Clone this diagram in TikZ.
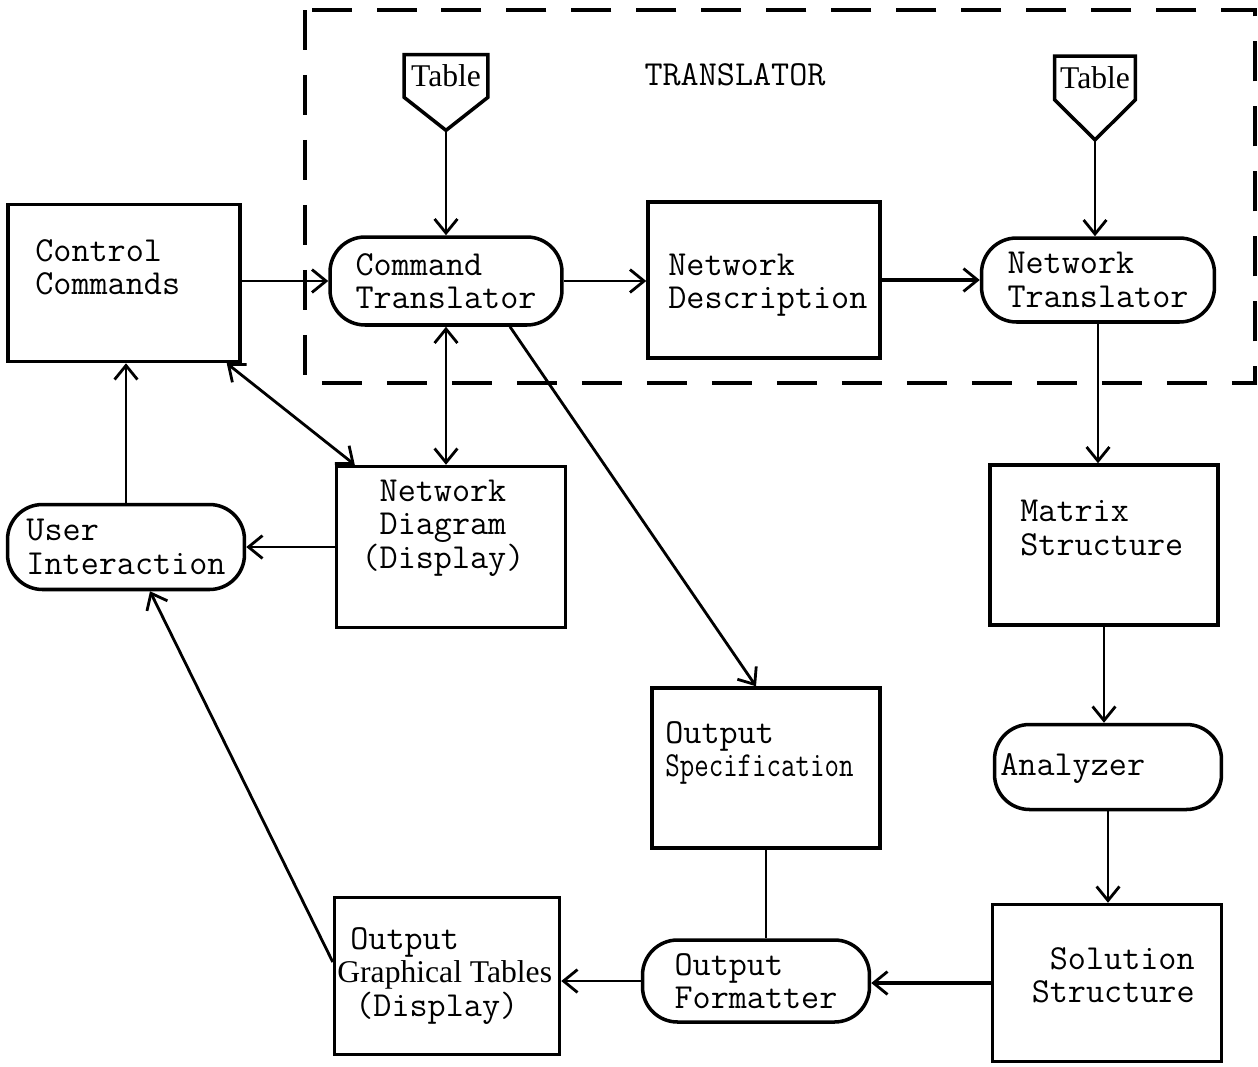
\documentclass[tikz,border=0pt]{standalone}
\usepackage{fontspec}
\newfontfamily\tabfont{Liberation Serif}
\usepackage{graphicx}
\usetikzlibrary{positioning,calc,arrows.meta}
\tikzset{
    % arrow tip
    >={Straight Barb[length=8pt,width=13pt,line width=1.6pt]},
    % arrow style
    pil/.style={
           ->,
           line width=1.6pt},
    % boxes and terminals
    box/.style={draw, line width=2pt, inner sep=0pt},
    term/.style={draw, line width=2pt, rounded corners=0.7cm, inner sep=0pt,
           align=left, font=\ttfamily\fontsize{20}{19}\selectfont},
    tabsign/.style={inner sep=0pt, font=\tabfont\fontsize{18}{19}\selectfont},
    txt/.style={inner sep=0pt, align=left, font=\ttfamily\fontsize{20}{19}\selectfont},
    frame/.style={line width=1.8pt, dash pattern=on 0.8cm off 0.5cm}
}
\begin{document}
\begin{tikzpicture}[x=0.02cm, y=-0.02cm]
\useasboundingbox (0,0) rectangle (1258,1066);

% translator frame
\draw [frame] (305,10) rectangle (1255,383);
\node [txt] (trl) at (735,75) {TRANSLATOR};

% tables
\node [tabsign, minimum width=1.66cm, minimum height=0.84cm] (tab1) at (446,76) {Table};
\draw [line width=2pt] (tab1.north west) -- (tab1.north east) -- (tab1.south east)
      -- ($(tab1.south)+(0,33)$) coordinate (tip1) -- (tab1.south west) -- cycle;
\node [tabsign, minimum width=1.6cm, minimum height=0.86cm] (tab2) at (1095,78) {Table};
\draw [line width=2pt] (tab2.north west) -- (tab2.north east) -- (tab2.south east)
      -- ($(tab2.south)+(0,40)$) coordinate (tip2) -- (tab2.south west) -- cycle;

% top row
\node [box, minimum width=4.64cm, minimum height=3.14cm] (cc) at (124,283) {};
\node [txt, anchor=west] (cc-t) at (35,267) {Control\\Commands};
\node [term, minimum width=4.64cm, minimum height=1.76cm] (ct) at (446,281) {Command\\Translator};
\node [box, minimum width=4.64cm, minimum height=3.12cm] (ndes) at (764,280) {};
\node [txt, anchor=west] (ndes-t) at (668,285) {Network\\Description};
\node [term, minimum width=4.66cm, minimum height=1.68cm] (nt) at (1098,280) {Network\\Translator};

% middle row
\node [term, minimum width=4.74cm, minimum height=1.7cm] (ui) at (126,547) {User\\Interaction};
\node [box, minimum width=4.58cm, minimum height=3.22cm] (ndg) at (451,547) {};
\node [txt, align=center] (ndg-t) at (443,528) {Network\\Diagram\\(Display)};
\node [box, minimum width=4.56cm, minimum height=3.2cm] (ms) at (1104,545) {};
\node [txt, anchor=west] (ms-t) at (1020,528) {Matrix\\Structure};
\node [term, minimum width=4.54cm, minimum height=1.7cm] (an) at (1108,767) {};
\node [txt, anchor=west] (an-t) at (1000,769) {Analyzer};
\node [box, minimum width=4.56cm, minimum height=3.2cm] (os) at (766,768) {};
\node [txt, anchor=west] (os-t) at (665,753) {Output\\\scalebox{0.8}[1]{Specification}};

% bottom row
\node [box, minimum width=4.5cm, minimum height=3.14cm] (og) at (447,976) {};
\node [txt, anchor=west] (og-t) at (337,976)
      {\hspace{0.26cm}Output\\{\tabfont\fontsize{18}{19}\selectfont Graphical Tables}\\\hspace{0.36cm}(Display)};
\node [term, minimum width=4.54cm, minimum height=1.64cm] (of) at (756,981) {Output\\Formatter};
\node [box, minimum width=4.58cm, minimum height=3.14cm] (ss) at (1107,983) {};
\node [txt, anchor=east, align=right] (ss-t) at (1195,975) {Solution\\Structure};

% connectors
\draw [pil] (tip1) -- (tip1 |- ct.north);
\draw [pil] (tip2) -- (tip2 |- nt.north);
\draw [pil] (cc.east |- ct.west) -- (ct.west);
\draw [pil] (ct.east) -- (ct.east -| ndes.west);
\draw [pil, line width=2.4pt] (ndes.east |- nt.west) -- (nt.west);
\draw [pil, <->] (ct.south) -- (ct.south |- ndg.north);
\draw [pil, <->] ($(cc.south east)+(-15,0)$) -- ($(ndg.north west)+(20,0)$);
\draw [pil] ($(ct.south)+(64,0)$) -- ($(os.north)+(-10,0)$);
\draw [pil] (nt.south) -- (nt.south |- ms.north);
\draw [pil] (ms.south) -- (ms.south |- an.north);
\draw [pil] (an.south) -- (an.south |- ss.north);
\draw [pil, line width=2.4pt] (ss.west) -- (ss.west -| of.east);
\draw [line width=1.6pt] (os.south) -- (os.south |- of.north);
\draw [pil] (of.west) -- (of.west -| og.east);
\draw [pil] (ndg.west) -- (ndg.west -| ui.east);
\draw [pil] ($(og.west)+(0,-14)$) -- ($(ui.south)+(24,0)$);
\draw [pil] (ui.north) -- (ui.north |- cc.south);

\end{tikzpicture}
\end{document}
